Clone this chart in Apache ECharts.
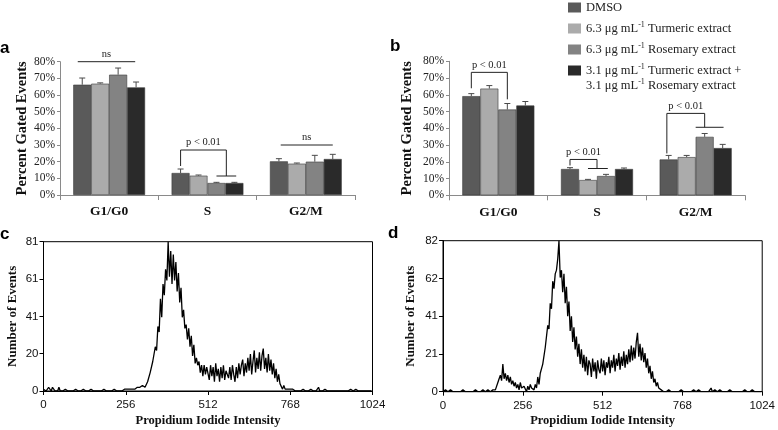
<!DOCTYPE html>
<html><head><meta charset="utf-8">
<script src="https://cdn.jsdelivr.net/npm/echarts@6/dist/echarts.min.js"></script>
<style>html,body{margin:0;padding:0;background:#fff}#c{width:778px;height:430px}</style>
</head><body><div id="c"></div>
<script>
// ---------- DATA ----------
const categories = ['G1/G0', 'S', 'G2/M'];
const seriesKeys = ['DMSO', 'Turmeric', 'Rosemary', 'Combo'];
const barColors = ['#5a5a5a', '#ababab', '#838383', '#2a2a2a'];

// Panel a (mean % and upper error)
const a_DMSO = [66.2, 13.2, 20.2];
const a_Turmeric = [66.8, 11.6, 18.8];
const a_Rosemary = [72.2, 7.2, 20.0];
const a_Combo = [64.6, 7.2, 21.6];
const a_DMSO_err = [4.0, 2.4, 1.6];
const a_Turmeric_err = [0.5, 0.4, 0.4];
const a_Rosemary_err = [4.0, 0.4, 3.8];
const a_Combo_err = [3.2, 0.4, 2.8];

// Panel b
const b_DMSO = [59.2, 15.7, 21.4];
const b_Turmeric = [63.7, 9.1, 22.8];
const b_Rosemary = [51.2, 11.5, 34.9];
const b_Combo = [53.6, 15.7, 28.2];
const b_DMSO_err = [1.5, 0.8, 2.4];
const b_Turmeric_err = [1.8, 0.4, 1.0];
const b_Rosemary_err = [3.6, 1.0, 2.0];
const b_Combo_err = [2.4, 0.6, 2.2];

// significance annotations (category, bar-slot positions, values in %)
const a_sig = [
  {cat: 0, label: 'ns', left: 0.25, right: 3.45, top: 80},
  {cat: 1, label: 'p < 0.01', left: 0.5, right: 3.05, top: 27, leftDrop: 17.4, rightDrop: 11.4, cap: [2.5, 3.6]},
  {cat: 2, label: 'ns', left: 0.6, right: 3.5, top: 30}
];
const b_sig = [
  {cat: 0, label: 'p < 0.01', left: 0.5, right: 2.5, top: 73.4, leftDrop: 63.9, rightDrop: 57.3},
  {cat: 1, label: 'p < 0.01', left: 0.5, right: 2.0, top: 21.4, leftDrop: 17.8, rightDrop: 16.0, cap: [1.5, 2.6]},
  {cat: 2, label: 'p < 0.01', left: 0.4, right: 2.5, top: 48.9, leftDrop: 25, rightDrop: 40.6, cap: [2.0, 3.55]}
];

const barPctTicks = [0, 80, 10];

// Histograms (counts per 4-channel bin, channel 0..1020)
const histBinStep = 4;
const histC_counts = [
  1,2,0,1,2,1,0,2,1,0,1,0,2,0,1,0,
  0,1,0,0,1,0,1,0,0,1,0,0,1,0,0,1,
  0,0,1,0,0,1,0,0,1,0,0,0,1,0,0,1,
  0,0,1,0,1,0,0,1,0,0,1,0,1,0,0,1,
  0,1,0,1,0,1,2,1,0,2,1,2,1,3,2,2,
  2,5,4,10,9,16,15,24,22,35,32,50,40,58,52,66,
  60,81,62,76,58,74,60,70,54,64,48,56,40,44,34,36,
  28,34,24,30,19,25,15,18,14,16,10,14,8,14,9,13,
  13,6,14,8,13,5,15,8,12,5,13,7,14,6,11,12,
  7,13,6,14,9,5,13,7,15,9,14,17,8,15,10,18,
  11,20,9,16,22,10,18,12,21,11,19,23,12,18,10,20,
  11,17,9,15,7,12,5,9,4,5,1,3,1,2,1,0,
  1,0,1,0,0,1,0,1,0,0,1,0,0,1,0,0,
  1,0,0,1,0,0,2,0,1,0,0,1,0,0,1,0,
  0,0,1,0,0,0,1,0,0,0,1,0,0,0,0,1,
  0,0,0,1,0,0,0,0,1,0,0,0,0,0,1,0
];
const histD_counts = [
  0,0,1,0,0,0,1,0,0,0,0,1,0,0,0,0,
  1,0,0,0,0,1,0,0,0,0,1,0,0,0,0,0,
  1,0,0,0,1,0,0,0,1,0,1,2,5,7,9,6,
  15,7,10,6,9,5,8,4,6,3,5,2,4,1,5,2,
  1,3,2,0,3,1,4,2,3,1,4,2,8,4,10,9,
  15,16,24,25,36,34,48,45,60,56,64,66,72,82,62,66,
  54,64,48,57,41,49,33,41,27,35,23,30,19,26,15,23,
  13,20,11,19,9,17,15,8,18,11,16,7,17,12,10,18,
  11,17,9,16,13,19,10,17,13,20,11,18,14,21,12,19,
  14,22,13,20,15,23,16,25,17,24,18,27,32,19,26,17,
  24,16,21,13,18,10,14,7,11,5,7,3,5,2,2,1,
  1,0,1,0,0,1,0,0,1,0,0,0,1,0,0,1,
  0,0,1,0,0,0,1,0,0,1,0,0,0,1,0,0,
  1,0,0,0,1,0,0,2,0,0,1,0,0,0,1,0,
  0,1,0,0,0,0,1,0,0,0,0,1,0,0,0,0,
  0,0,1,0,0,0,0,0,1,0,0,0,0,0,0,0
];
const histXTicks = [0, 1024, 256];
const histC_yMax = 81;
const histD_yMax = 82;

// ---------- CHART ----------
const SERIF = 'Liberation Serif';
const SANS = 'Liberation Sans';
const GROUP_FRAC = 0.73;

const legendText = {
  DMSO: '{t|DMSO}',
  Turmeric: '{t|6.3 μg mL}{s|-1}{t| Turmeric extract}',
  Rosemary: '{t|6.3 μg mL}{s|-1}{t| Rosemary extract}',
  Combo: '{t|3.1 μg mL}{s|-1}{t| Turmeric extract +}\n{t|3.1 μg mL}{s|-1}{t| Rosemary extract}'
};

function slotX(api, cat, slot) {
  const c = api.coord([cat, 0]);
  const band = api.size([1, 0])[0];
  const gw = band * GROUP_FRAC;
  return c[0] - gw / 2 + slot * gw / 4;
}

function errRender(params, api) {
  const cat = api.value(0), mean = api.value(1), err = api.value(2), bi = api.value(3);
  const x = slotX(api, cat, bi + 0.5);
  const y0 = api.coord([cat, mean])[1];
  const y1 = api.coord([cat, mean + err])[1];
  const st = {stroke: '#4a4a4a', lineWidth: 1};
  return {type: 'group', children: [
    {type: 'line', shape: {x1: x, y1: y0, x2: x, y2: y1}, style: st},
    {type: 'line', shape: {x1: x - 3, y1: y1, x2: x + 3, y2: y1}, style: st}
  ]};
}

function makeSigRender(list) {
  return function (params, api) {
    const s = list[params.dataIndex];
    const xl = slotX(api, s.cat, s.left), xr = slotX(api, s.cat, s.right);
    const yt = api.coord([s.cat, s.top])[1];
    const st = {stroke: '#222', lineWidth: 1};
    const ch = [{type: 'line', shape: {x1: xl, y1: yt, x2: xr, y2: yt}, style: st}];
    if (s.leftDrop != null) {
      ch.push({type: 'line', shape: {x1: xl, y1: yt, x2: xl, y2: api.coord([s.cat, s.leftDrop])[1]}, style: st});
      ch.push({type: 'line', shape: {x1: xr, y1: yt, x2: xr, y2: api.coord([s.cat, s.rightDrop])[1]}, style: st});
    }
    if (s.cap) {
      const yc = api.coord([s.cat, s.rightDrop])[1];
      ch.push({type: 'line', shape: {x1: slotX(api, s.cat, s.cap[0]), y1: yc, x2: slotX(api, s.cat, s.cap[1]), y2: yc}, style: st});
    }
    ch.push({type: 'text', x: (xl + xr) / 2, y: yt - 2,
      style: {text: s.label, textAlign: 'center', textVerticalAlign: 'bottom', font: '10.5px ' + SERIF, fill: '#222'}});
    return {type: 'group', children: ch};
  };
}

const aMeans = [a_DMSO, a_Turmeric, a_Rosemary, a_Combo];
const aErrs = [a_DMSO_err, a_Turmeric_err, a_Rosemary_err, a_Combo_err];
const bMeans = [b_DMSO, b_Turmeric, b_Rosemary, b_Combo];
const bErrs = [b_DMSO_err, b_Turmeric_err, b_Rosemary_err, b_Combo_err];

function errData(means, errs) {
  const out = [];
  means.forEach((m, s) => m.forEach((v, c) => out.push([c, v, errs[s][c], s])));
  return out;
}

function barSeries(means, axisIdx) {
  return means.map((m, s) => ({
    name: seriesKeys[s], type: 'bar', xAxisIndex: axisIdx, yAxisIndex: axisIdx,
    data: m, barGap: '0%', barCategoryGap: (100 - GROUP_FRAC * 100) + '%',
    itemStyle: {color: barColors[s], borderColor: '#3a3a3a', borderWidth: 0.6},
    emphasis: {disabled: true}
  }));
}

function histData(counts) {
  return counts.map((v, i) => [i * histBinStep, v]);
}

const barY = (idx, gap) => ({
  type: 'value', gridIndex: idx, min: barPctTicks[0], max: barPctTicks[1], interval: barPctTicks[2],
  name: 'Percent Gated Events', nameLocation: 'middle', nameGap: gap,
  nameTextStyle: {fontFamily: SERIF, fontWeight: 'bold', fontSize: 14.5, color: '#111'},
  axisLine: {show: true, lineStyle: {color: '#8a8a8a'}},
  axisTick: {show: true, length: 3, lineStyle: {color: '#8a8a8a'}},
  axisLabel: {formatter: '{value}%', fontFamily: SERIF, fontSize: 11.5, color: '#222', margin: 5},
  splitLine: {show: false}
});
const barX = (idx) => ({
  type: 'category', gridIndex: idx, data: categories,
  axisLine: {lineStyle: {color: '#8a8a8a'}},
  axisTick: {show: true, length: 5, lineStyle: {color: '#8a8a8a'}},
  axisLabel: {fontFamily: SERIF, fontWeight: 'bold', fontSize: 13.5, color: '#111', margin: 10}
});
const histX = (idx) => ({
  type: 'value', gridIndex: idx, min: histXTicks[0], max: histXTicks[1], interval: histXTicks[2],
  name: 'Propidium Iodide Intensity', nameLocation: 'middle', nameGap: 23,
  nameTextStyle: {fontFamily: SERIF, fontWeight: 'bold', fontSize: 12.5, color: '#111'},
  axisLine: {lineStyle: {color: '#000'}},
  axisTick: {length: 4, lineStyle: {color: '#000'}},
  axisLabel: {fontFamily: SANS, fontSize: 11.5, color: '#111', margin: 8, formatter: v => String(v)},
  splitLine: {show: false}
});
const histY = (idx, max, gap) => ({
  type: 'value', gridIndex: idx, min: 0, max: max, interval: max / 4,
  name: 'Number of Events', nameLocation: 'middle', nameGap: gap,
  nameTextStyle: {fontFamily: SERIF, fontWeight: 'bold', fontSize: 13, color: '#111'},
  axisLine: {lineStyle: {color: '#000'}},
  axisTick: {length: 4, lineStyle: {color: '#000'}},
  axisLabel: {fontFamily: SANS, fontSize: 11.5, color: '#111', margin: 5, formatter: v => String(Math.round(v))},
  splitLine: {show: false}
});

const panelTitle = (t, left, top) => ({text: t, left: left, top: top, padding: 0,
  textStyle: {fontFamily: SANS, fontWeight: 'bold', fontSize: 17, color: '#000'}});

const chart = echarts.init(document.getElementById('c'), null, {renderer: 'canvas'});
chart.setOption({
  animation: false,
  backgroundColor: '#fff',
  title: [panelTitle('a', 0, 40), panelTitle('b', 390, 38), panelTitle('c', 0, 226), panelTitle('d', 388, 225)],
  legend: {
    orient: 'vertical', left: 563, top: -5, itemWidth: 13, itemHeight: 10, itemGap: 6,
    icon: 'rect', selectedMode: false,
    itemStyle: {borderWidth: 0},
    data: [{name: 'DMSO'}, {name: 'Turmeric'}, {name: 'Rosemary'},
      {name: 'Combo', textStyle: {padding: [0, 0, -15, 0]}}],
    formatter: name => legendText[name],
    textStyle: {fontFamily: SERIF, fontSize: 12.5, color: '#222', lineHeight: 15,
      rich: {
        t: {fontFamily: SERIF, fontSize: 12.5, color: '#222', lineHeight: 15},
        s: {fontFamily: SERIF, fontSize: 8, color: '#222', lineHeight: 15, verticalAlign: 'top'}
      }}
  },
  grid: [
    {left: 60, top: 61.7, width: 295, height: 133.3},
    {left: 449, top: 61.3, width: 296, height: 134},
    {left: 43.5, top: 241.7, width: 329, height: 149.3, show: true, borderColor: '#000', borderWidth: 1},
    {left: 443, top: 240.7, width: 324, height: 151, show: true, borderColor: '#000', borderWidth: 1}
  ],
  xAxis: [barX(0), barX(1), histX(2), histX(3)],
  yAxis: [barY(0, 30), barY(1, 34), histY(2, histC_yMax, 24), histY(3, histD_yMax, 26)],
  series: [
    ...barSeries(aMeans, 0),
    ...barSeries(bMeans, 1),
    {type: 'custom', xAxisIndex: 0, yAxisIndex: 0, renderItem: errRender, data: errData(aMeans, aErrs), z: 5, silent: true, encode: {x: 0, y: 1}},
    {type: 'custom', xAxisIndex: 1, yAxisIndex: 1, renderItem: errRender, data: errData(bMeans, bErrs), z: 5, silent: true, encode: {x: 0, y: 1}},
    {type: 'custom', xAxisIndex: 0, yAxisIndex: 0, renderItem: makeSigRender(a_sig), data: a_sig.map(s => [s.cat, s.top]), z: 6, silent: true, encode: {x: 0, y: 1}},
    {type: 'custom', xAxisIndex: 1, yAxisIndex: 1, renderItem: makeSigRender(b_sig), data: b_sig.map(s => [s.cat, s.top]), z: 6, silent: true, encode: {x: 0, y: 1}},
    {type: 'line', xAxisIndex: 2, yAxisIndex: 2, data: histData(histC_counts), showSymbol: false, lineStyle: {color: '#000', width: 1.3}, silent: true},
    {type: 'line', xAxisIndex: 3, yAxisIndex: 3, data: histData(histD_counts), showSymbol: false, lineStyle: {color: '#000', width: 1.3}, silent: true}
  ]
});
</script></body></html>
